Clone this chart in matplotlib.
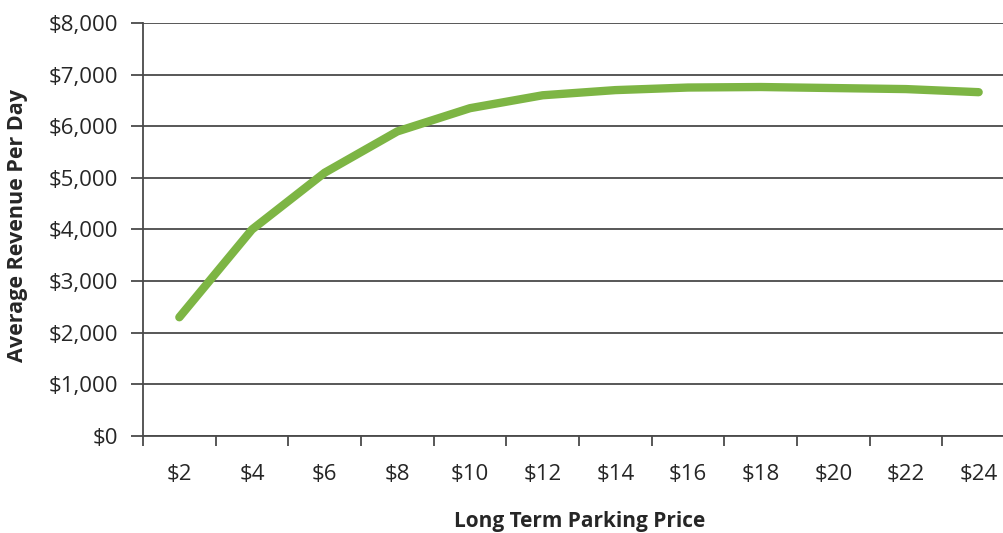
import matplotlib
matplotlib.use("Agg")
import matplotlib.pyplot as plt
from matplotlib.ticker import FuncFormatter, FixedLocator
import numpy as np

# Long term parking price vs average daily revenue
prices = ["$2", "$4", "$6", "$8", "$10", "$12", "$14", "$16", "$18", "$20", "$22", "$24"]
revenue = [2300, 4000, 5100, 5900, 6350, 6600, 6700, 6750, 6760, 6740, 6720, 6660]
y_ticks = [0, 1000, 2000, 3000, 4000, 5000, 6000, 7000, 8000]

plt.rcParams["font.family"] = ["Open Sans", "DejaVu Sans"]

W, H = 1004, 533
fig = plt.figure(figsize=(W / 100, H / 100), dpi=100)
ax = fig.add_axes([143 / W, (H - 436) / H, (1015 - 143) / W, (436 - 23) / H])

x = np.arange(len(prices))
ax.plot(x, revenue, color="#7db544", lw=6.0, solid_capstyle="round",
        solid_joinstyle="round", zorder=3)

ax.set_xlim(-0.5, len(prices) - 0.5)
ax.set_ylim(0, 8000)

grid_color = "#4a4a4a"
text_color = "#262626"
ax.set_yticks(y_ticks)
ax.yaxis.set_major_formatter(FuncFormatter(lambda v, p: f"${int(v):,}"))
ax.yaxis.grid(True, color=grid_color, lw=1.3)
ax.tick_params(axis="y", length=9, width=1.3, color=grid_color, pad=9,
               labelsize=16, labelcolor=text_color)

# category boundaries carry the tick marks, labels sit at the category centres
ax.xaxis.set_major_locator(FixedLocator(np.arange(-0.5, len(prices), 1.0)))
ax.xaxis.set_major_formatter(FuncFormatter(lambda v, p: ""))
ax.xaxis.set_minor_locator(FixedLocator(x))
ax.set_xticklabels(prices, minor=True)
ax.tick_params(axis="x", which="major", length=7, width=1.3, color=grid_color)
ax.tick_params(axis="x", which="minor", length=0, pad=20,
               labelsize=16, labelcolor=text_color)

for side in ("top", "right"):
    ax.spines[side].set_visible(False)
for side in ("left", "bottom"):
    ax.spines[side].set_color(grid_color)
    ax.spines[side].set_linewidth(1.3)

fig.text(580 / W, 1 - 521 / H, "Long Term Parking Price", ha="center", va="center",
         fontsize=15, fontweight="bold", color=text_color)
fig.text(18 / W, 1 - 225 / H, "Average Revenue Per Day", ha="center", va="center",
         rotation=90, fontsize=15.5, fontweight="bold", color=text_color)

fig.savefig("out.png", dpi=100, facecolor="white")
